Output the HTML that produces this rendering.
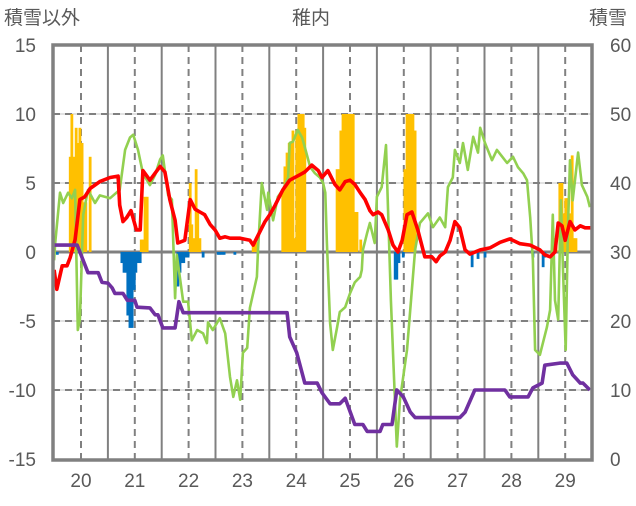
<!DOCTYPE html>
<html><head><meta charset="utf-8"><style>
body{margin:0;background:#fff}
svg text{font-family:"Liberation Sans","Noto Sans CJK JP",sans-serif;fill:#595959}
</style></head><body>
<svg id="chart" width="636" height="501" viewBox="0 0 636 501" xmlns="http://www.w3.org/2000/svg">
<text x="4" y="24" font-size="19">積雪以外</text>
<text x="311" y="24" font-size="19" text-anchor="middle">稚内</text>
<text x="589" y="24" font-size="19">積雪</text>
<g id="grid"></g>
<g id="bars"></g>
<g id="lines"></g>
<rect x="53" y="45" width="539" height="415" fill="none" stroke="#808080" stroke-width="3.5"/>
<g id="ticks"></g>
</svg>
<script>
const xYears=[20,21,22,23,24,25,26,27,28,29];
const leftTicks=[15,10,5,0,-5,-10,-15];
const rightTicks=[60,50,40,30,20,10,0];
const barT=[19.56,19.80,19.83,19.87,19.91,19.94,19.98,20.02,20.06,20.09,20.17,20.76,20.80,20.84,20.87,20.91,20.95,20.99,21.02,21.06,21.10,21.12,21.15,21.19,21.23,21.80,21.84,21.88,21.91,21.95,21.99,22.03,22.06,22.10,22.14,22.17,22.21,22.27,22.55,22.58,22.62,22.66,22.86,23.20,23.23,23.27,23.75,23.79,23.83,23.87,23.90,23.94,23.98,24.01,24.05,24.09,24.13,24.16,24.76,24.80,24.83,24.87,24.91,24.94,24.98,25.02,25.06,25.09,25.13,25.20,25.84,25.87,25.91,25.99,26.02,26.06,26.10,26.13,26.17,26.21,27.23,27.27,27.38,27.51,28.40,28.59,28.62,28.79,28.83,28.90,28.94,28.98,29.01,29.05,29.09,29.13,29.16,29.20];
const barV=[-0.2,6.9,10,6.9,9,7.9,9,7.9,3.6,3.6,6.9,-0.8,-1.5,-1.5,-4.6,-5.5,-5.5,-2.75,-1.5,-0.8,-0.8,0.9,0.9,4.0,4.0,-2.5,-1.5,-0.8,-0.8,-0.4,-0.4,5,2,1,6,3,1,-0.4,-0.2,-0.2,-0.2,-0.2,-0.2,0.7,0.7,0.7,4.3,6.2,7.2,7.9,7.9,8.8,1.0,8.8,10,10,10,9,6,6,8.8,10,10,10,10,10,10,2.9,2.9,0.9,-2.0,-2.0,-0.8,-0.4,6,10,10,10,10,8.8,-0.2,-1.1,-0.5,-0.4,-0.4,-1.1,-0.4,1,1,5,5,2.8,3.9,3.9,2.8,7,1,1];
const greenT=[19.50,19.52,19.61,19.67,19.76,19.83,19.89,19.94,19.98,20.04,20.13,20.26,20.35,20.54,20.72,20.82,20.91,20.97,21.06,21.15,21.28,21.38,21.47,21.52,21.62,21.69,21.75,21.78,21.90,21.99,22.06,22.16,22.27,22.34,22.36,22.45,22.58,22.68,22.77,22.83,22.90,22.96,23.01,23.09,23.14,23.27,23.29,23.36,23.46,23.48,23.57,23.66,23.75,23.85,23.88,23.94,24.03,24.11,24.16,24.26,24.35,24.44,24.50,24.54,24.57,24.63,24.68,24.76,24.81,24.91,25.00,25.09,25.19,25.22,25.24,25.32,25.37,25.46,25.50,25.59,25.67,25.76,25.87,25.93,26.06,26.21,26.30,26.45,26.54,26.67,26.77,26.82,26.91,26.95,27.04,27.10,27.19,27.29,27.38,27.42,27.51,27.64,27.73,27.83,27.92,28.03,28.12,28.22,28.29,28.35,28.40,28.44,28.53,28.66,28.72,28.75,28.77,28.81,28.87,28.92,28.96,29.01,29.05,29.09,29.14,29.24,29.31,29.41,29.46];
const greenV=[-0.6,0.65,4.3,3.55,4.3,3.9,4.5,-5.65,-4.9,2.7,4.5,3.55,4.1,3.9,4.5,7.4,8.3,8.5,7.4,5.7,4.85,5.6,6.7,7.0,4.1,3.8,-3.35,-0.2,-3.6,-3.6,-6.4,-5.65,-5.9,-6.6,-5.1,-5.65,-4.8,-5.9,-9.05,-10.5,-9.3,-10.7,-7.3,-6.95,-4.05,-1.8,0.15,5.0,3.05,4.3,2.3,4.0,4.5,5.4,7.9,8.0,8.85,8.3,7.6,6.15,5.7,5.4,5.0,4.3,0.65,-5.15,-7.1,-5.45,-4.35,-4.0,-3.0,-2.2,-1.8,-1.3,0.15,1.4,2.1,0.65,4.0,4.7,7.75,-3.5,-14.1,-10.7,-7.1,0.15,2.1,2.8,1.8,2.5,1.8,4.7,5.4,7.4,6.45,7.9,5.95,8.35,7.2,9.0,7.9,6.65,7.4,6.9,6.45,6.9,6.15,5.7,5.2,2.5,-0.6,-7.1,-7.45,-5.45,-4.2,0.15,2.7,-3.5,-4.9,3.75,-1.3,-7.1,1.6,6.65,3.75,7.2,4.85,4.0,3.25];
const redT=[19.50,19.55,19.65,19.74,19.80,19.89,19.98,20.07,20.17,20.35,20.54,20.69,20.72,20.78,20.85,20.93,21.03,21.10,21.15,21.28,21.47,21.56,21.65,21.75,21.80,21.93,22.03,22.12,22.21,22.30,22.40,22.49,22.58,22.68,22.77,22.96,23.14,23.20,23.29,23.42,23.51,23.61,23.75,23.88,24.07,24.16,24.29,24.41,24.48,24.59,24.72,24.81,24.91,25.00,25.09,25.19,25.28,25.37,25.43,25.52,25.59,25.71,25.80,25.89,25.97,26.06,26.15,26.26,26.39,26.52,26.60,26.67,26.77,26.86,26.95,27.04,27.14,27.23,27.42,27.60,27.79,27.97,28.16,28.35,28.53,28.62,28.72,28.81,28.87,28.94,29.00,29.09,29.18,29.28,29.37,29.50];
const redV=[-1.3,-2.7,-1.0,-1.0,-0.4,0.9,3.8,4.0,4.6,5.1,5.4,5.5,3.4,2.2,2.5,3.0,1.6,1.6,5.9,5.2,6.2,5.8,3.8,2.3,0.65,0.85,3.8,3.1,2.9,2.7,2.0,1.6,1.0,1.1,1.0,1.0,0.85,0.5,1.2,2.2,2.7,3.4,4.5,5.2,5.6,5.8,6.3,5.9,5.4,5.9,4.9,4.5,5.1,5.2,4.9,4.3,3.8,3.0,2.7,2.9,2.7,1.6,0.5,0,0.85,2.7,2.9,1.6,-0.35,-0.35,-0.7,-0.3,0,0.85,2.2,1.75,0.15,-0.15,0.15,0.3,0.7,0.95,0.6,0.5,0.15,-0.2,-0.35,0,2.1,1.9,0.85,2.2,1.6,1.9,1.75,1.75];
const purpleT=[19.48,19.93,20.13,20.32,20.39,20.50,20.58,20.63,20.78,20.86,21.00,21.04,21.28,21.38,21.43,21.52,21.75,21.82,21.90,23.83,23.88,24.01,24.16,24.39,24.48,24.63,24.81,24.91,25.09,25.24,25.32,25.56,25.61,25.78,25.87,25.99,26.12,26.21,27.04,27.14,27.32,27.88,27.97,28.31,28.40,28.57,28.62,28.90,29.03,29.14,29.28,29.33,29.46];
const purpleV=[0.5,0.5,-1.5,-1.5,-2.2,-2.25,-2.6,-3.0,-3.0,-3.5,-3.5,-4.0,-4.05,-4.55,-4.55,-5.5,-5.5,-3.6,-4.4,-4.4,-6.15,-7.3,-9.5,-9.5,-10.2,-11.0,-11.0,-10.6,-12.5,-12.5,-13.0,-13.0,-12.5,-12.5,-10.0,-10.5,-11.6,-12.0,-12.0,-11.6,-10.0,-10.0,-10.5,-10.5,-9.85,-9.5,-8.2,-8.05,-8.05,-8.9,-9.5,-9.5,-10.0,-10.0];

const NS="http://www.w3.org/2000/svg";
function X(t){return 81+(t-20)*53.8;}
function Y(v){return 252-v*13.8;}
function YR(v){return 459-v*6.9;}
function mk(tag,attrs,parent){const e=document.createElementNS(NS,tag);for(const k in attrs)e.setAttribute(k,attrs[k]);document.getElementById(parent).appendChild(e);return e;}

[10,5,-5,-10].forEach(v=>{
  const l1=mk('line',{x1:53,x2:592,y1:Y(v),y2:Y(v),stroke:'#d9d9d9','stroke-width':1.5},'grid');
  
  
  const l=mk('line',{x1:53,x2:592,y1:Y(v),y2:Y(v),stroke:'#808080','stroke-width':2,'stroke-dasharray':'7 5'},'grid');
  
  
});
xYears.forEach((yr,i)=>{
  const d=mk('line',{x1:X(yr),x2:X(yr),y1:45,y2:460,stroke:'#808080','stroke-width':2,'stroke-dasharray':'7 5'},'grid');
  
  
  if(i<xYears.length-1){
    const s=mk('line',{x1:X(yr+0.5),x2:X(yr+0.5),y1:45,y2:460,stroke:'#808080','stroke-width':2},'grid');
    
    
  }
});
barT.forEach((t,i)=>{
  const v=barV[i];
  const y0=Y(0),y1=Y(v);
  const b=mk('rect',{x:X(t)-1.4,y:Math.min(y0,y1),width:2.8,height:Math.abs(y1-y0),fill:v>=0?'#FFC000':'#0070C0'},'bars');
  
  
});
const z=mk('line',{x1:53,x2:592,y1:Y(0),y2:Y(0),stroke:'#808080','stroke-width':3},'grid');


function line(T,V,color,w,name){
  const pts=T.map((t,i)=>X(t).toFixed(1)+','+Y(V[i]).toFixed(1)).join(' ');
  const p=mk('polyline',{points:pts,fill:'none',stroke:color,'stroke-width':w,'stroke-linejoin':'round'},'lines');
  
  
}
line(greenT,greenV,'#92D050',2.6,'green-series');
line(redT,redV,'#FF0000',3.6,'red-series');
line(purpleT,purpleV,'#7030A0',3.6,'purple-series');
leftTicks.forEach(v=>{
  const t=mk('text',{x:36,y:Y(v)+7,'font-size':19,'text-anchor':'end'},'ticks');
  t.textContent=v;
  
  
});
rightTicks.forEach(v=>{
  const t=mk('text',{x:610,y:YR(v)+7,'font-size':19},'ticks');
  t.textContent=v;
  
  
});
xYears.forEach(yr=>{
  const t=mk('text',{x:X(yr),y:487,'font-size':19,'text-anchor':'middle'},'ticks');
  t.textContent=yr;
  
  
});
</script>
</body></html>
